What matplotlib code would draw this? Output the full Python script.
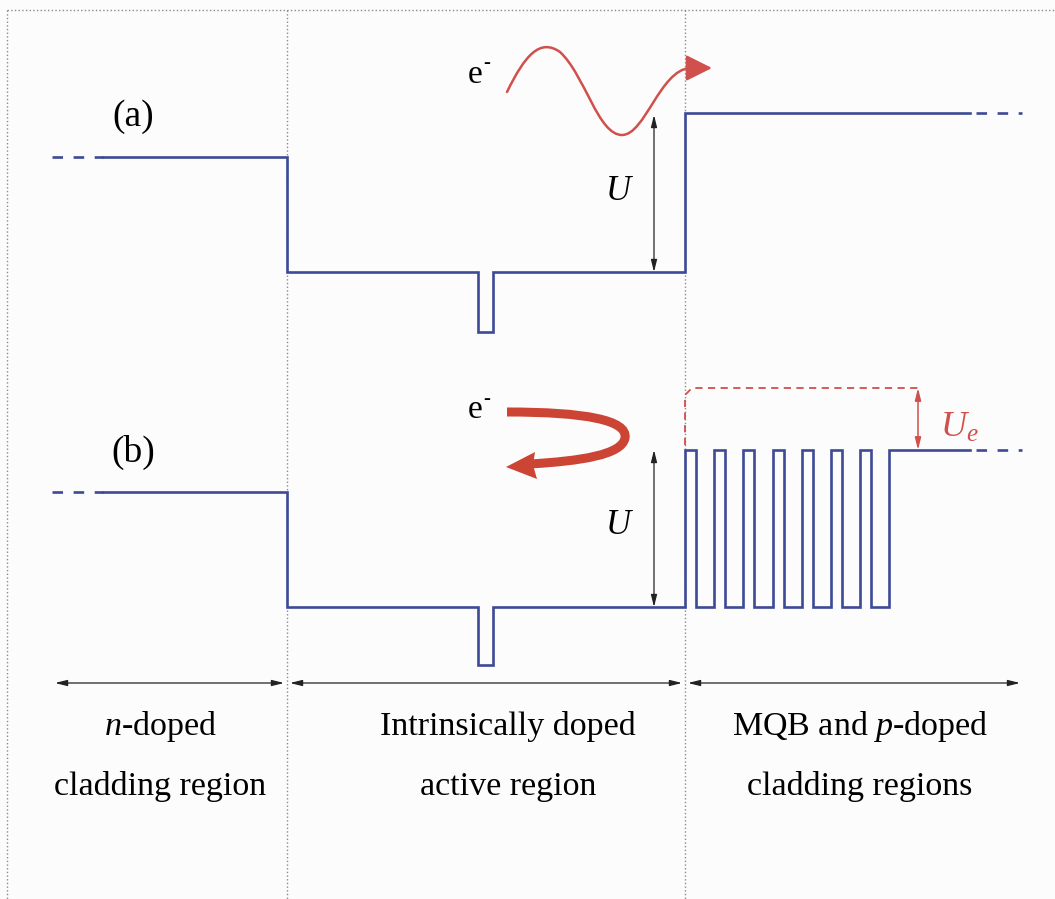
import numpy as np
import matplotlib.pyplot as plt
from matplotlib.path import Path
from matplotlib.patches import FancyArrowPatch, PathPatch, Polygon

plt.rcParams['font.family'] = ['Liberation Serif', 'DejaVu Serif']
plt.rcParams['mathtext.fontset'] = 'custom'
plt.rcParams['mathtext.rm'] = 'Liberation Serif'
plt.rcParams['mathtext.it'] = 'Liberation Serif:italic'

# region boundaries (x) and band edge levels (y, downwards) for panels (a) and (b)
x_bounds = [7, 287, 685, 1055]
x_left, x_dash_end, x_right_solid, x_right = 52, 103, 970, 1022
well_x = [478, 493]
levels_a = {'clad_n': 157, 'active': 272, 'well': 332, 'clad_p': 113}
levels_b = {'clad_n': 492, 'active': 607, 'well': 665, 'clad_p': 450, 'ue': 388}
n_mqb = 7
mqb_period = 29.2
mqb_barrier = 11
x_ue = 918
axis_y = 683

region_labels = [('$n$-doped', 'cladding region'),
                 ('Intrinsically doped', 'active region'),
                 ('MQB and $p$-doped', 'cladding regions')]
label_x = [160, 508, 860]

blue = '#3d4a96'
red = '#d0504c'

fig = plt.figure(figsize=(10.55, 8.99), dpi=100)
ax = fig.add_axes([0, 0, 1, 1])
ax.set_xlim(0, 1055)
ax.set_ylim(899, 0)
ax.axis('off')
fig.patch.set_facecolor('#fcfcfd')

# dotted frame and region separators
ax.plot([x_bounds[0], 1055], [10, 10], ls=':', color='#8a8a8a', lw=1)
for xb in x_bounds[:3]:
    ax.plot([xb, xb], [10, 899], ls=':', color='#8a8a8a', lw=1)


def band(lv, mqb=False):
    xs = [x_dash_end, x_bounds[1], x_bounds[1], well_x[0], well_x[0], well_x[1], well_x[1], x_bounds[2], x_bounds[2]]
    ys = [lv['clad_n'], lv['clad_n'], lv['active'], lv['active'], lv['well'], lv['well'], lv['active'], lv['active'], lv['clad_p']]
    if mqb:
        for i in range(n_mqb):
            x0 = x_bounds[2] + i * mqb_period
            xs += [x0 + mqb_barrier, x0 + mqb_barrier, x0 + mqb_period, x0 + mqb_period]
            ys += [lv['clad_p'], lv['active'], lv['active'], lv['clad_p']]
    xs.append(x_right_solid)
    ys.append(lv['clad_p'])
    ax.plot(xs, ys, color=blue, lw=1.9, solid_joinstyle='miter')
    ax.plot([x_left, x_dash_end], [lv['clad_n']] * 2, color=blue, lw=1.9, dashes=(4, 4))
    ax.plot([x_right_solid + 6, x_right], [lv['clad_p']] * 2, color=blue, lw=1.9, dashes=(4, 4))


band(levels_a)
band(levels_b, mqb=True)


def dbl_arrow(x0, y0, x1, y1, color='#222222', ms=12, lw=0.9):
    ax.annotate('', xy=(x1, y1), xytext=(x0, y0),
                arrowprops=dict(arrowstyle='<|-|>,head_length=0.6,head_width=0.15',
                                color=color, lw=lw, mutation_scale=ms, shrinkA=0, shrinkB=0))


# barrier height arrows
dbl_arrow(654, levels_a['clad_p'] + 2, 654, levels_a['active'])
dbl_arrow(654, levels_b['clad_p'], 654, levels_b['active'])
ax.text(619, 191, '$U$', fontsize=25, ha='center', va='center')
ax.text(619, 526, '$U$', fontsize=25, ha='center', va='center')

# effective barrier U_e
ax.plot([685, 685, 692, x_ue], [445, 395, 388, 388], color=red, lw=1.3, dashes=(4, 3))
dbl_arrow(x_ue, levels_b['ue'], x_ue, levels_b['clad_p'], color=red, lw=1.1)
ax.text(940, 428, '$U_e$', fontsize=26, ha='left', va='center', color=red)

# transmitted electron wave in (a)
wave = Path([(507, 92), (525, 55), (540, 38), (560, 52), (585, 75), (598, 135), (622, 135),
             (645, 135), (660, 70), (690, 68), (697, 68), (712, 68)],
            [Path.MOVETO] + [Path.CURVE4] * 9 + [Path.LINETO] * 2)
ax.add_patch(FancyArrowPatch(path=wave, arrowstyle='-|>,head_length=1.0,head_width=0.5',
                             mutation_scale=16, color=red, lw=1.8))

# reflected electron in (b)
bounce = Path([(507, 412), (585, 412), (628, 420), (625, 438),
               (622, 455), (580, 461), (530, 464)],
              [Path.MOVETO] + [Path.CURVE4] * 6)
ax.add_patch(PathPatch(bounce, fill=False, edgecolor='#cc4433', lw=6.5, capstyle='butt'))
ax.add_patch(Polygon([(506, 467), (535, 452), (533, 465), (537, 479)], closed=True,
                     facecolor='#cc4433', edgecolor='none'))

for ey in (75, 410):
    ax.text(475, ey, 'e', fontsize=24, ha='center', va='center')
    ax.text(487, ey - 11, '-', fontsize=15, ha='center', va='center')
ax.text(133, 117, '(a)', fontsize=27, ha='center', va='center')
ax.text(133, 452, '(b)', fontsize=27, ha='center', va='center')

# region extent arrows and labels
dbl_arrow(55, axis_y, 284, axis_y)
dbl_arrow(290, axis_y, 682, axis_y)
dbl_arrow(688, axis_y, 1020, axis_y)
for (l1, l2), lx in zip(region_labels, label_x):
    ax.text(lx, 727, l1, fontsize=24.5, ha='center', va='center')
    ax.text(lx, 787, l2, fontsize=24.5, ha='center', va='center')

fig.savefig('out.png', dpi=100, facecolor=fig.get_facecolor())
